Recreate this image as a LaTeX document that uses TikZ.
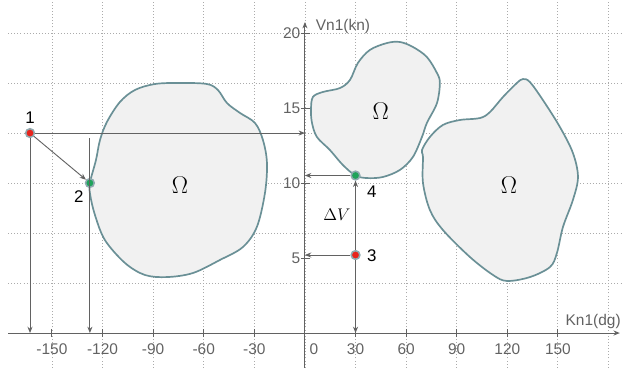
\documentclass[tikz,border=0pt]{standalone}
\usepackage{fontspec}
\usepackage{tikz}
\usetikzlibrary{arrows.meta,positioning}
\newfontfamily\arialfont{Liberation Sans}
\definecolor{axisgray}{HTML}{626262}
\definecolor{gridgray}{HTML}{ABABAB}
\definecolor{regionfill}{HTML}{F1F1F1}
\definecolor{regionedge}{HTML}{6A9096}
\definecolor{ptred}{HTML}{E8241C}
\definecolor{ptgreen}{HTML}{1FA35B}
\definecolor{ptring}{HTML}{8FAAB0}
\tikzset{
  axis/.style={axisgray, line width=0.7pt, -{Stealth[length=4.5pt,width=3.6pt]}},
  proj/.style={axisgray, line width=0.65pt, -{Stealth[length=4.5pt,width=3.6pt]}},
  griddot/.style={gridgray, line width=0.6pt, dash pattern=on 0.6pt off 1.6pt},
  region/.style={draw=regionedge, fill=regionfill, line width=1.2pt},
  ticklab/.style={font=\arialfont\fontsize{11}{13}\selectfont, text=axisgray, inner sep=0.5pt},
  ptlab/.style={font=\arialfont\fontsize{12}{14}\selectfont, inner sep=1pt},
}

\begin{document}
\begin{tikzpicture}[x=0.042167cm, y=0.375cm,
      pt/.style={circle, draw=ptring, line width=1.1pt, minimum size=6.2pt, inner sep=0pt},
      omega/.style={font=\fontsize{16}{18}\selectfont}]
    \useasboundingbox (-180.8,-2.27) rectangle (188,22.2);
    % grid
    \foreach \gx in {-150,-120,...,180} \draw[griddot] (\gx,-2.3) -- (\gx,22.2);
    \foreach \gy in {1,...,6} \draw[griddot] (-176,{\gy*10/3}) -- (188,{\gy*10/3});
    % regions
    \draw[region] plot[smooth cycle, tension=0.55] coordinates {
      (-127.5,10) (-123.9,11.53) (-121.5,12.87) (-117.4,14.07) (-109.7,15.4) (-100.8,16.2)
      (-88.9,16.6) (-74.1,16.67) (-58.1,16.6) (-51.6,16.2) (-46.2,15.33) (-38.5,14.67)
      (-29.6,14) (-24.9,12.87) (-22.5,11.33) (-23.7,9.33) (-28.5,7.07) (-36.8,5.73)
      (-50.4,4.87) (-66.4,4) (-81.8,3.73) (-94.9,3.87) (-106.7,4.67) (-118.6,6.2)
      (-124.5,7.87) (-127.3,9.2)};
    \draw[region] plot[smooth cycle, tension=0.55] coordinates {
      (4.7,15.73) (10.7,16.07) (20.8,16.33) (26.7,16.87) (31.4,18) (38.5,18.87)
      (48.6,19.33) (56.3,19.4) (64,19.07) (72.3,18.4) (78.3,17.33) (80,16.67)
      (78.3,15.33) (72.3,14) (69.4,13.07) (64,11.73) (56.3,10.87) (46.2,10.4)
      (36.8,10.33) (30,10.5) (22.5,11.2) (14.8,12.2) (7.1,13.07) (4.2,14) (3.6,14.87)};
    \draw[region] plot[smooth cycle, tension=0.55] coordinates {
      (129.3,16.93) (133.4,16.73) (141.1,15.53) (151.2,13.73) (158.9,12) (161.9,10.4)
      (158.9,8.87) (153,7.07) (149.4,5.33) (145.3,4.4) (133.4,3.73) (119.8,3.47)
      (111.5,3.87) (97.8,5.07) (81.8,6.87) (74.1,8.2) (70,10) (70,11.73) (69.4,12.2)
      (74.1,13.07) (81.8,13.87) (91.9,14.2) (103.8,14.33) (109.7,14.73) (117.4,15.73)
      (125.7,16.67)};
    \node[omega] (om1) at (-74.1,9.87) {$\Omega$};
    \node[omega] (om2) at (45,14.8) {$\Omega$};
    \node[omega] (om3) at (121,9.87) {$\Omega$};
    % axes
    \coordinate (xstart) at (-176,0);
    \coordinate (xend) at (186.7,0);
    \coordinate (ystart) at (0,-2.3);
    \coordinate (yend) at (0,20.73);
    \draw[axis] (xstart) -- (xend);
    \draw[axis] (ystart) -- (yend);
    \foreach \t in {-150,-120,-90,-60,-30,30,60,90,120,150} {
      \draw[axisgray, line width=0.7pt] (\t,-0.27) -- (\t,0.27);
      \node[ticklab, anchor=base] at (\t,-1.45) {\t};
    }
    \node[ticklab, anchor=base] (zero) at (5.3,-1.45) {0};
    \foreach \t in {5,10,15,20} {
      \draw[axisgray, line width=0.7pt] (-2.4,\t) -- (3,\t);
      \node[ticklab, anchor=east] at (-2.2,\t) {\t};
    }
    \node[ticklab, anchor=base west] (xlab) at (154,0.47) {Kn1(dg)};
    \node[ticklab, anchor=base west] (ylab) at (5.9,20.15) {Vn1(kn)};
    % points and projections
    \node[pt, fill=ptred] (p1) at (-163,13.33) {};
    \node[pt, fill=ptgreen] (p2) at (-127.5,10) {};
    \node[pt, fill=ptred] (p3) at (30,5.2) {};
    \node[pt, fill=ptgreen] (p4) at (30,10.5) {};
    \coordinate (p1y) at (0,13.33);
    \coordinate (p1x) at (-163,0);
    \coordinate (p2top) at (-127.5,13);
    \coordinate (p2x) at (-127.5,0);
    \coordinate (p3y) at (0,5.2);
    \coordinate (p3x) at (30,0);
    \coordinate (p4y) at (0,10.5);
    \draw[proj] (p1) -- (p1y);
    \draw[proj] (p1) -- (p1x);
    \draw[proj] (p1) -- (p2);
    \draw[proj] (p2top) -- (p2x);
    \draw[proj] (p3) -- (p3y);
    \draw[proj] (p3) -- (p3x);
    \draw[proj] (p4) -- (p4y);
    \draw[proj] (p3) -- (p4);
    \node[ptlab] (l1) at (-163,14.33) {1};
    \node[ptlab] (l2) at (-134,9.07) {2};
    \node[ptlab] (l3) at (39.7,5.13) {3};
    \node[ptlab] (l4) at (39.7,9.4) {4};
    \node[font=\fontsize{13}{15}\selectfont] (dv) at (19,7.87) {$\Delta V$};
  \end{tikzpicture}
\end{document}
